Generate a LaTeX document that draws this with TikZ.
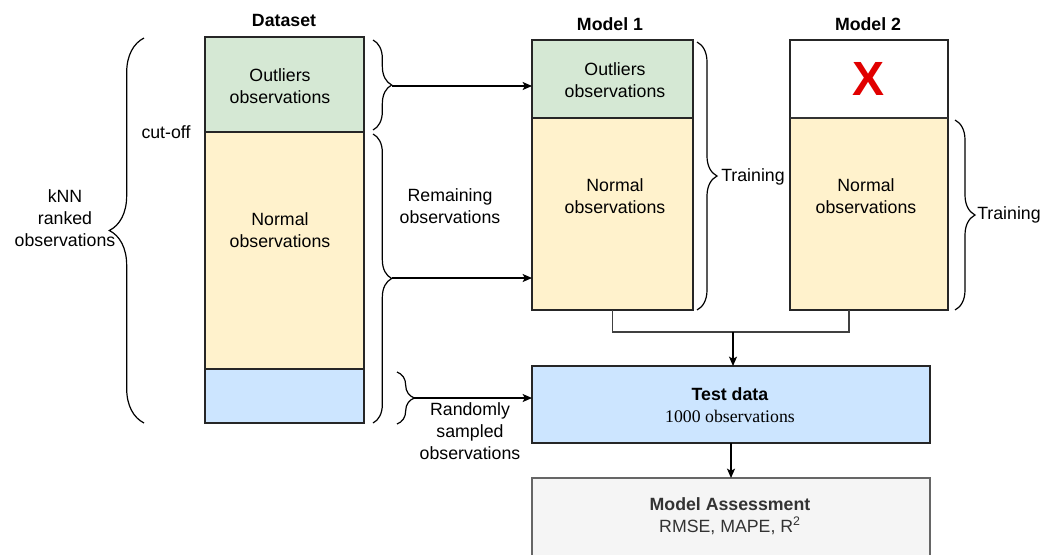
\documentclass[tikz,border=0pt]{standalone}
\usepackage{fontspec}
\setmainfont{Liberation Sans}
\newfontfamily\serifx{Liberation Serif}
\usetikzlibrary{decorations.pathreplacing,arrows.meta,calc}
\definecolor{grn}{HTML}{D5E8D4}
\definecolor{yel}{HTML}{FFF2CC}
\definecolor{blu}{HTML}{CCE5FF}
\definecolor{gry}{HTML}{F5F5F5}
\definecolor{dgry}{HTML}{666666}
\definecolor{tgry}{HTML}{333333}
\definecolor{xred}{HTML}{E10000}
\newcommand\myfs{\fontsize{13.3pt}{16.5pt}\selectfont}
\begin{document}
\begin{tikzpicture}[x=0.75pt,y=-0.75pt, font=\myfs,
  box/.style={draw=black!85, line width=0.9pt, anchor=north west, inner sep=0pt, outer sep=0pt},
  lbl/.style={align=center, inner sep=0pt},
  br/.style={decorate, decoration={brace, amplitude=#1}, line width=0.9pt},
  conn/.style={line width=0.9pt, -{Stealth[length=7pt,width=6pt,inset=1.5pt]}},
  wire/.style={line width=0.9pt}]
\path[fill=white, use as bounding box] (0,0) rectangle (1042,554);

% Dataset
\node[box, fill=grn, minimum width=119.25pt, minimum height=71.25pt] (dout) at (205,37) {};
\node[box, fill=yel, minimum width=119.25pt, minimum height=177.75pt] (dnorm) at (205,132) {};
\node[box, fill=blu, minimum width=119.25pt, minimum height=40.5pt] (drand) at (205,369) {};
\node[lbl] (tdout) at (280,86) {Outliers\\observations};
\node[lbl] (tdnorm) at (280,230) {Normal\\observations};
\node[lbl, font=\myfs\bfseries] (tdata) at (284,20) {Dataset};

% Model 1
\node[box, fill=grn, minimum width=120.75pt, minimum height=58.5pt] (m1out) at (532,40) {};
\node[box, fill=yel, minimum width=120.75pt, minimum height=144pt] (m1norm) at (532,118) {};
\node[lbl] (tm1out) at (615,80.5) {Outliers\\observations};
\node[lbl] (tm1norm) at (615,196) {Normal\\observations};
\node[lbl, font=\myfs\bfseries] (tm1) at (610,24) {Model 1};

% Model 2
\node[box, fill=white, minimum width=118.5pt, minimum height=58.5pt] (m2out) at (790,40) {};
\node[box, fill=yel, minimum width=118.5pt, minimum height=144pt] (m2norm) at (790,118) {};
\draw[line width=1.4pt, draw=black!80] (m2norm.north west) -- (m2norm.north east);
\node[lbl, font=\fontsize{36pt}{36pt}\selectfont\bfseries, text=xred] (xmark) at (868,79) {X};
\node[lbl] (tm2norm) at (866,196) {Normal\\observations};
\node[lbl, font=\myfs\bfseries] (tm2) at (868,24) {Model 2};

% Test data and assessment
\node[box, fill=blu, minimum width=298.5pt, minimum height=57.75pt] (test) at (532,366) {};
\node[lbl] (ttest) at (730,405) {\textbf{Test data}\\{\serifx 1000 observations}};
\node[box, draw=dgry, fill=gry, minimum width=298.5pt, minimum height=60pt] (assess) at (532,478) {};
\node[lbl, text=tgry] (tassess) at (730,516) {\textbf{Model Assessment}\\RMSE, MAPE, R\textsuperscript{2}};

% Braces
\draw[br=26pt] (144,423) -- (144,38);
\node[lbl] (knn) at (65,218) {kNN\\ranked\\observations};
\node[lbl] (cut) at (166,132) {cut-off};
\draw[br=14pt] (373,40) -- (373,130);
\coordinate (b1) at (392,86);
\draw[br=14pt] (373,134) -- (373,423);
\coordinate (b2) at (392,278);
\node[lbl] (remain) at (450,206) {Remaining\\observations};
\draw[br=13pt] (397,372) -- (397,424);
\coordinate (b3) at (414,398);
\node[lbl] (rand) at (470,431) {Randomly\\sampled\\observations};
\draw[br=15pt] (697,42) -- (697,310);
\node[lbl, anchor=west] (tr1) at (721,177) {Training};
\draw[br=15pt] (955,120) -- (955,310);
\node[lbl, anchor=west] (tr2) at (977,215) {Training};

% Connectors
\draw[conn] (b1) -- (b1 -| m1out.west);
\draw[conn] (b2) -- (b2 -| m1norm.west);
\draw[conn] (b3) -- (b3 -| test.west);
\coordinate (j) at (733,332);
\coordinate (m2foot) at (849,310);
\draw[wire, draw=black!75] (m1norm.south) |- (j) -| (m2foot);
\draw[conn] (j) -- (j |- test.north);
\draw[conn] (test.south) -- (assess.north);
\end{tikzpicture}
\end{document}
